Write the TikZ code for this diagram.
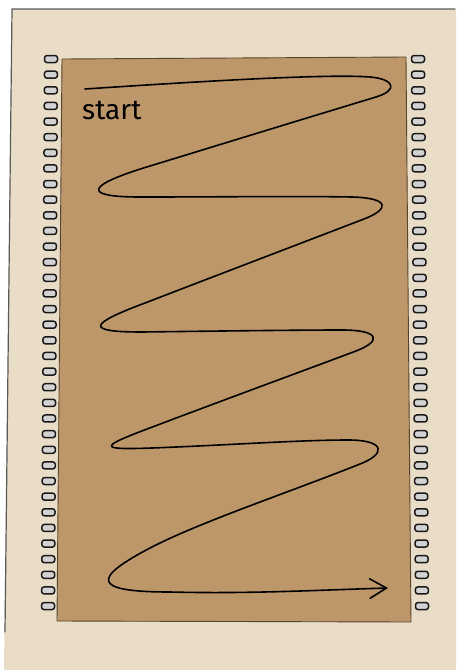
\documentclass[tikz,border=0pt]{standalone}
\usepackage{fontspec}
\newfontfamily\chufont{Fira Sans}
\usetikzlibrary{arrows.meta}
\definecolor{giay}{RGB}{233,221,199}
\definecolor{bia}{RGB}{189,151,105}
\begin{document}
\begin{tikzpicture}[
			x=1pt, y=-1pt,
			line join=round,
			line cap=round,
			lo/.style={draw=black!90, fill=gray!35, line width=1.5pt, rounded corners=2.5pt},
			duong/.style={line width=1.6pt}
			]
			\useasboundingbox (0,0) rectangle (456,670);
			% nen giay
			\fill[giay] (12,9) -- (456,9) -- (456,670) -- (4,670) -- cycle;
			\draw[gray!70!black, line width=1.2pt] (5,632) -- (12,9) -- (455,9);
			% bia
			\filldraw[fill=bia, draw=black!55!bia, line width=0.9pt]
			(62,59) -- (406,57) -- (411,622) -- (57,621) -- cycle;
			% lo hai ben
			\foreach \i in {0,...,35}{
				\pgfmathsetmacro{\yy}{59+\i*15.63}
				\draw[lo] ({51-3*\i/35-6.5},{\yy-3.5}) rectangle ++(13,7);
				\draw[lo] ({418+4*\i/35-6.5},{\yy-3.5}) rectangle ++(13,7);
			}
			\node[font=\chufont\fontsize{28}{30}\selectfont, anchor=base west, inner sep=0] (batdau) at (82,119) {start};
			% duong zic zac
			\draw[duong, -{Straight Barb[length=17pt, width=20pt]}]
			(85,89) .. controls (220,80) and (330,74) .. (370,77)
			.. controls (394,79) and (399,90) .. (376,97)
			.. controls (300,120) and (222,144) .. (150,166)
			.. controls (87,185) and (80,197) .. (140,197)
			.. controls (220,197) and (300,196) .. (352,197)
			.. controls (390,198) and (390,209) .. (364,219)
			.. controls (299,244) and (215,276) .. (145,303)
			.. controls (89,324) and (84,332) .. (142,332)
			.. controls (220,331) and (300,330) .. (342,330)
			.. controls (380,330) and (382,341) .. (356,351)
			.. controls (300,372) and (221,401) .. (155,426)
			.. controls (99,447) and (96,450) .. (152,448)
			.. controls (230,445) and (300,440) .. (348,440)
			.. controls (386,440) and (386,454) .. (360,464)
			.. controls (290,492) and (200,522) .. (150,548)
			.. controls (95,577) and (88,592) .. (170,592)
			.. controls (250,594) and (320,590) .. (388,588);
		\end{tikzpicture}
\end{document}
